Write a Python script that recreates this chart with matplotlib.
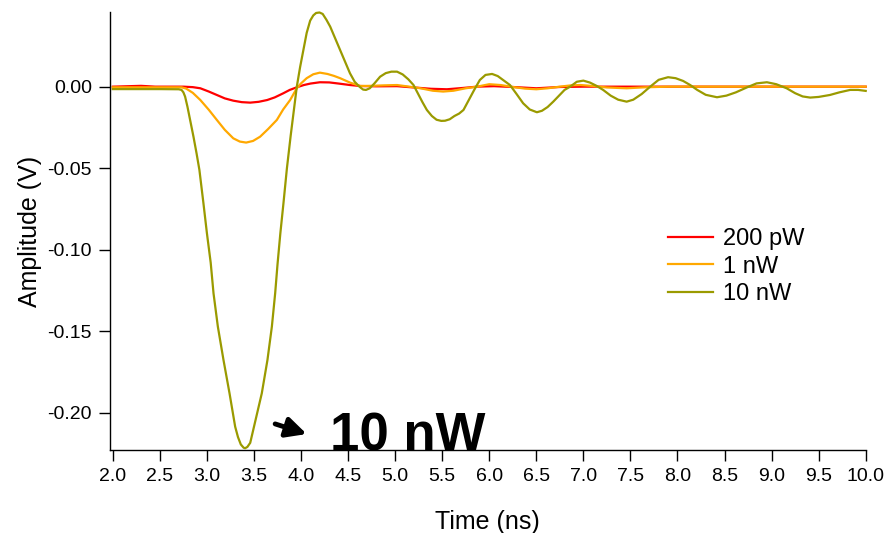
import numpy as np
import matplotlib.pyplot as plt

plt.rcParams['font.family'] = ['Liberation Sans', 'DejaVu Sans']
plt.rcParams['axes.unicode_minus'] = False

# values (time in ns, amplitude in V)
t_200pw = [2.0, 2.3, 2.45, 2.75, 2.85, 2.93, 3.02, 3.105, 3.19, 3.28, 3.37, 3.46, 3.55, 3.64, 3.72,
           3.81, 3.88, 3.955, 4.03, 4.10, 4.20, 4.30, 4.40, 4.52, 4.63, 4.80, 5.02, 5.20, 5.38, 5.55,
           5.72, 5.87, 6.05, 6.25, 6.5, 6.75, 7.0, 8.0, 9.0, 10.0]
v_200pw = [0.0, 0.0005, 0.0, 0.0, -0.0003, -0.001, -0.003, -0.0051, -0.0072, -0.0086, -0.0095, -0.0098, -0.0093, -0.0082, -0.0066,
           -0.0041, -0.002, -0.0004, 0.001, 0.0019, 0.0027, 0.0026, 0.0019, 0.001, 0.0004, 0.0002, 0.0003, -0.0005, -0.0013, -0.0016,
           -0.0008, 0.0, 0.0003, -0.0002, -0.001, -0.0002, 0.0, 0.0, 0.0, 0.0]

t_1nw = [2.0, 2.5, 2.73, 2.78, 2.85, 2.93, 3.02, 3.105, 3.19, 3.28, 3.35, 3.417, 3.49, 3.565, 3.65,
         3.743, 3.81, 3.884, 3.955, 4.00, 4.06, 4.13, 4.20, 4.28, 4.35, 4.415, 4.52, 4.63, 4.75, 4.88,
         5.02, 5.15, 5.27, 5.40, 5.51, 5.62, 5.75, 5.87, 6.0, 6.12, 6.25, 6.38, 6.5, 6.62, 6.75,
         6.87, 6.97, 7.1, 7.25, 7.46, 7.65, 7.9, 9.0, 10.0]
v_1nw = [-0.0004, -0.0004, -0.0004, -0.0012, -0.0038, -0.0082, -0.0142, -0.0204, -0.0265, -0.0317, -0.0337, -0.0343, -0.0333, -0.0307, -0.026,
         -0.0204, -0.014, -0.0082, -0.001, 0.002, 0.0052, 0.0076, 0.0086, 0.0078, 0.0066, 0.0052, 0.0025, 0.0004, 0.0005, 0.0008,
         0.001, 0.0, -0.001, -0.0025, -0.003, -0.0025, -0.001, 0.0, 0.0015, 0.001, -0.0002, -0.0012, -0.0016, -0.001, 0.0,
         0.0008, 0.001, 0.0004, -0.0005, -0.001, -0.0004, 0.0, 0.0, 0.0]

t_10nw = [2.0, 2.5, 2.70, 2.73, 2.75, 2.768, 2.793, 2.82, 2.857, 2.89, 2.92, 2.963, 3.00, 3.04, 3.07,
          3.116, 3.176, 3.24, 3.27, 3.30, 3.33, 3.36, 3.39, 3.406, 3.43, 3.46, 3.50, 3.54, 3.583, 3.643,
          3.69, 3.725, 3.75, 3.78, 3.813, 3.85, 3.89, 3.925, 3.955, 3.99, 4.025, 4.06, 4.097, 4.13, 4.16,
          4.196, 4.23, 4.27, 4.31, 4.36, 4.415, 4.47, 4.52, 4.57, 4.62, 4.66, 4.69, 4.73, 4.78, 4.84,
          4.90, 4.96, 5.02, 5.08, 5.14, 5.195, 5.24, 5.29, 5.337, 5.39, 5.44, 5.49, 5.53, 5.58, 5.63,
          5.68, 5.726, 5.78, 5.84, 5.90, 5.96, 6.03, 6.09, 6.15, 6.22, 6.29, 6.36, 6.43, 6.506, 6.56,
          6.62, 6.68, 6.75, 6.80, 6.86, 6.93, 7.0, 7.07, 7.14, 7.21, 7.29, 7.37, 7.46, 7.53, 7.62,
          7.71, 7.80, 7.90, 7.98, 8.06, 8.135, 8.21, 8.30, 8.42, 8.52, 8.62, 8.74, 8.84, 8.95, 9.05,
          9.16, 9.25, 9.33, 9.41, 9.50, 9.62, 9.72, 9.835, 9.92, 10.0]
v_10nw = [-0.0015, -0.0015, -0.0016, -0.002, -0.0035, -0.0061, -0.0123, -0.020, -0.0307, -0.041, -0.0511, -0.0716, -0.090, -0.108, -0.1268,
          -0.1472, -0.1677, -0.1881, -0.1985, -0.2086, -0.215, -0.2195, -0.2215, -0.2218, -0.221, -0.2185, -0.2086, -0.199, -0.1881, -0.1677,
          -0.1472, -0.1268, -0.109, -0.090, -0.0716, -0.050, -0.030, -0.014, 0.0, 0.012, 0.0225, 0.033, 0.0405, 0.0437, 0.0452,
          0.0455, 0.0446, 0.041, 0.0368, 0.030, 0.0225, 0.015, 0.0082, 0.003, 0.0, -0.0018, -0.002, -0.001, 0.002, 0.0061,
          0.0083, 0.0092, 0.0092, 0.0075, 0.0045, 0.001, -0.004, -0.0095, -0.0143, -0.018, -0.0203, -0.021, -0.0209, -0.020, -0.018,
          -0.0165, -0.0143, -0.0085, -0.002, 0.0041, 0.0072, 0.0078, 0.0065, 0.004, 0.001, -0.0045, -0.0102, -0.014, -0.0157, -0.0148,
          -0.0125, -0.0092, -0.005, -0.002, 0.0, 0.003, 0.0037, 0.0025, 0.0005, -0.002, -0.0055, -0.008, -0.0092, -0.008, -0.0045,
          0.0, 0.0042, 0.0058, 0.0052, 0.0035, 0.001, -0.002, -0.005, -0.0065, -0.0055, -0.0035, -0.0004, 0.002, 0.0027, 0.0015,
          -0.001, -0.004, -0.006, -0.0067, -0.0063, -0.0051, -0.0035, -0.002, -0.002, -0.0026]

labels = ['200 pW', '1 nW', '10 nW']
colors = ['#ff0000', '#ffa800', '#9a9a00']
x_ticks = np.arange(2.0, 10.01, 0.5)
y_ticks = [0.0, -0.05, -0.10, -0.15, -0.20]

fig = plt.figure(figsize=(8.9, 5.33), dpi=100)
ax = fig.add_axes([110 / 890, 1 - 450 / 533, (865.7 - 110) / 890, (450 - 12) / 533])

series = [(t_200pw, v_200pw), (t_1nw, v_1nw), (t_10nw, v_10nw)]
for (t, v), c, lab in zip(series, colors, labels):
    ax.plot(t, v, color=c, lw=1.6, label=lab, solid_joinstyle='round', clip_on=False)

ax.set_xlim(1.97, 10.0)
ax.set_ylim(-0.2229, 0.0458)
ax.set_xticks(x_ticks)
ax.set_xticklabels([f'{v:.1f}' for v in x_ticks])
ax.set_yticks(y_ticks)
ax.set_yticklabels([f'{v:.2f}' for v in y_ticks])
ax.tick_params(labelsize=14, length=8, width=1, pad=5)

for side in ['top', 'right']:
    ax.spines[side].set_visible(False)
for side in ['left', 'bottom']:
    ax.spines[side].set_linewidth(1)

ax.set_xlabel('Time (ns)', fontsize=18, labelpad=18)
ax.set_ylabel('Amplitude (V)', fontsize=18, labelpad=4)

ax.legend(loc='upper left', bbox_to_anchor=(668 / 890, 1 - 228 / 533), bbox_transform=fig.transFigure,
          frameon=False, fontsize=17, handlelength=1.9, handletextpad=0.45, labelspacing=0.24,
          borderpad=0, borderaxespad=0)

ax.annotate('', xy=(4.06, -0.2131), xytext=(3.725, -0.2069),
            arrowprops=dict(arrowstyle='-|>,head_length=0.6,head_width=0.3', lw=3.5, color='black',
                            mutation_scale=20, shrinkA=0, shrinkB=0))
ax.text(4.31, -0.2229, '10 nW', fontsize=38, fontweight='bold', va='baseline', ha='left')

fig.savefig('out.png', dpi=100)
